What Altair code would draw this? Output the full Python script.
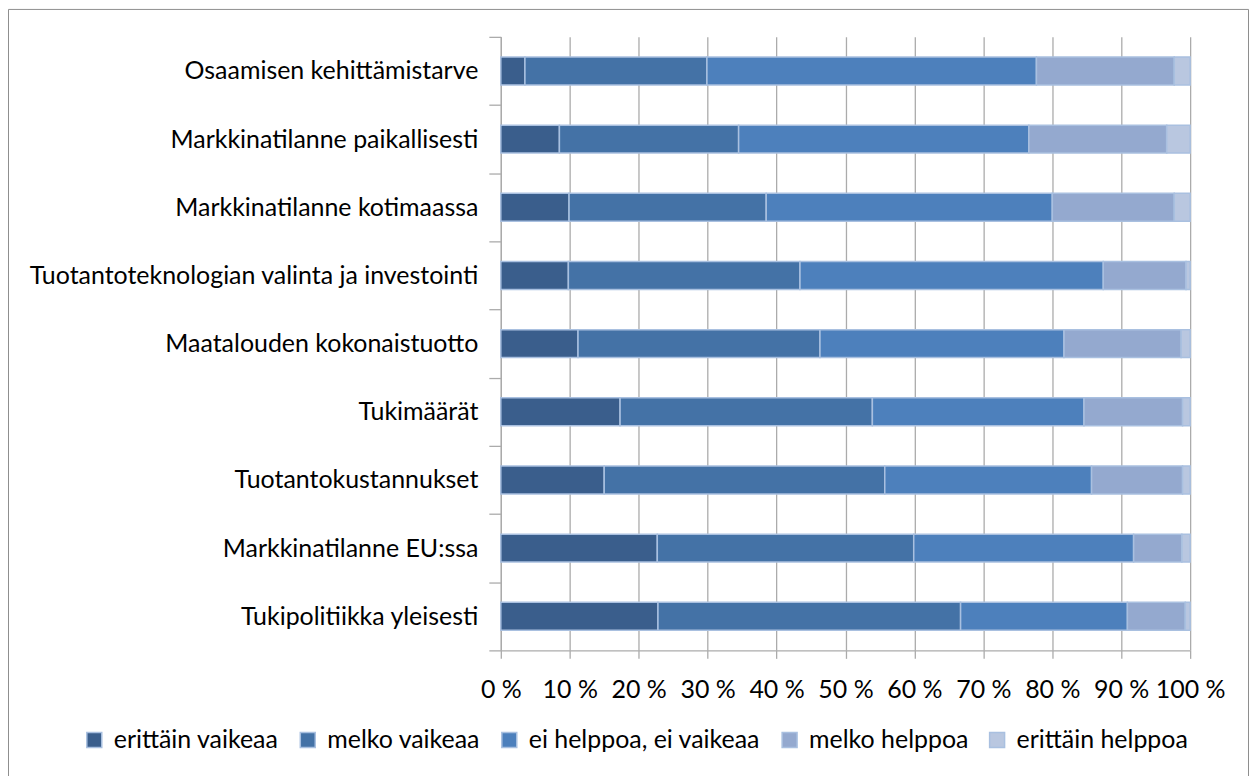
import altair as alt
import pandas as pd

categories = [
    "Osaamisen kehittämistarve",
    "Markkinatilanne paikallisesti",
    "Markkinatilanne kotimaassa",
    "Tuotantoteknologian valinta ja investointi",
    "Maatalouden kokonaistuotto",
    "Tukimäärät",
    "Tuotantokustannukset",
    "Markkinatilanne EU:ssa",
    "Tukipolitiikka yleisesti",
]
series = ["erittäin vaikeaa", "melko vaikeaa", "ei helppoa, ei vaikeaa",
          "melko helppoa", "erittäin helppoa"]

erittain_vaikeaa = [3.5, 8.5, 9.9, 9.8, 11.2, 17.3, 15.0, 22.7, 22.8]
melko_vaikeaa = [26.4, 26.0, 28.6, 33.6, 35.1, 36.6, 40.7, 37.2, 43.9]
ei_helppoa_ei_vaikeaa = [47.8, 42.1, 41.5, 44.0, 35.4, 30.7, 30.0, 31.9, 24.2]
melko_helppoa = [20.0, 20.0, 17.7, 12.0, 17.0, 14.3, 13.2, 7.0, 8.4]
erittain_helppoa = [2.3, 3.4, 2.3, 0.6, 1.3, 1.1, 1.1, 1.2, 0.7]

colors = ["#3A5E8C", "#4472A6", "#4D80BC", "#94A9CF", "#B9C7E0"]
x_ticks = [0, 0.1, 0.2, 0.3, 0.4, 0.5, 0.6, 0.7, 0.8, 0.9, 1.0]

values_by_series = [erittain_vaikeaa, melko_vaikeaa, ei_helppoa_ei_vaikeaa,
                    melko_helppoa, erittain_helppoa]
rows = []
for si, (s, vals) in enumerate(zip(series, values_by_series)):
    for c, v in zip(categories, vals):
        rows.append({"category": c, "series": s, "value": v, "idx": si})
df = pd.DataFrame(rows)

FONT = "Lato"
FS = 25
GRID = "#ABABAB"

bars = alt.Chart(df).mark_bar(
    stroke="#A9C0E0", strokeWidth=1.5, height={"band": 0.41}
).encode(
    x=alt.X(
        "value:Q",
        stack="normalize",
        scale=alt.Scale(domain=[0, 1]),
        title=None,
        axis=alt.Axis(
            values=x_ticks,
            labelExpr="round(datum.value*100) + ' %'",
            grid=True, gridColor=GRID, gridWidth=1.3,
            domainColor=GRID, domainWidth=1.3,
            tickColor=GRID, tickWidth=1.3, tickSize=8,
            labelFontSize=FS, labelColor="#000000", labelFont=FONT,
            labelPadding=19, labelFlush=False,
        ),
    ),
    y=alt.Y(
        "category:N",
        sort=categories,
        title=None,
        scale=alt.Scale(paddingInner=0, paddingOuter=0),
        axis=alt.Axis(
            tickBand="extent",
            grid=False,
            domainColor=GRID, domainWidth=1.3,
            tickColor=GRID, tickWidth=1.3, tickSize=12,
            labelFontSize=FS, labelColor="#000000", labelFont=FONT,
            labelPadding=11, labelLimit=600,
        ),
    ),
    color=alt.Color(
        "series:N",
        sort=series,
        scale=alt.Scale(domain=series, range=colors),
        legend=alt.Legend(
            title=None, orient="none", direction="horizontal",
            legendX=-420, legendY=692,
            symbolType="square", symbolSize=225,
            symbolStrokeColor="#A9C0E0", symbolStrokeWidth=1.5,
            symbolOpacity=1,
            labelFontSize=FS, labelColor="#000000", labelFont=FONT,
            labelOffset=7, columnPadding=16, labelLimit=600,
        ),
    ),
    order=alt.Order("idx:Q"),
)

frame = alt.Chart(pd.DataFrame({"a": [0]})).mark_rect(
    fill="white", fillOpacity=0, stroke="#8E8E8E", strokeWidth=1
).encode(
    x=alt.value(-493.5), x2=alt.value(749.5),
    y=alt.value(-27.5), y2=alt.value(800),
)

chart = alt.layer(bars, frame).properties(
    width=691, height=615,
    autosize=alt.AutoSizeParams(type="none"),
    padding={"left": 494, "top": 28, "right": 59, "bottom": 125},
).configure(font=FONT).configure_view(strokeWidth=0)

chart.save("out.html", embed_options={"renderer": "svg", "actions": False})
